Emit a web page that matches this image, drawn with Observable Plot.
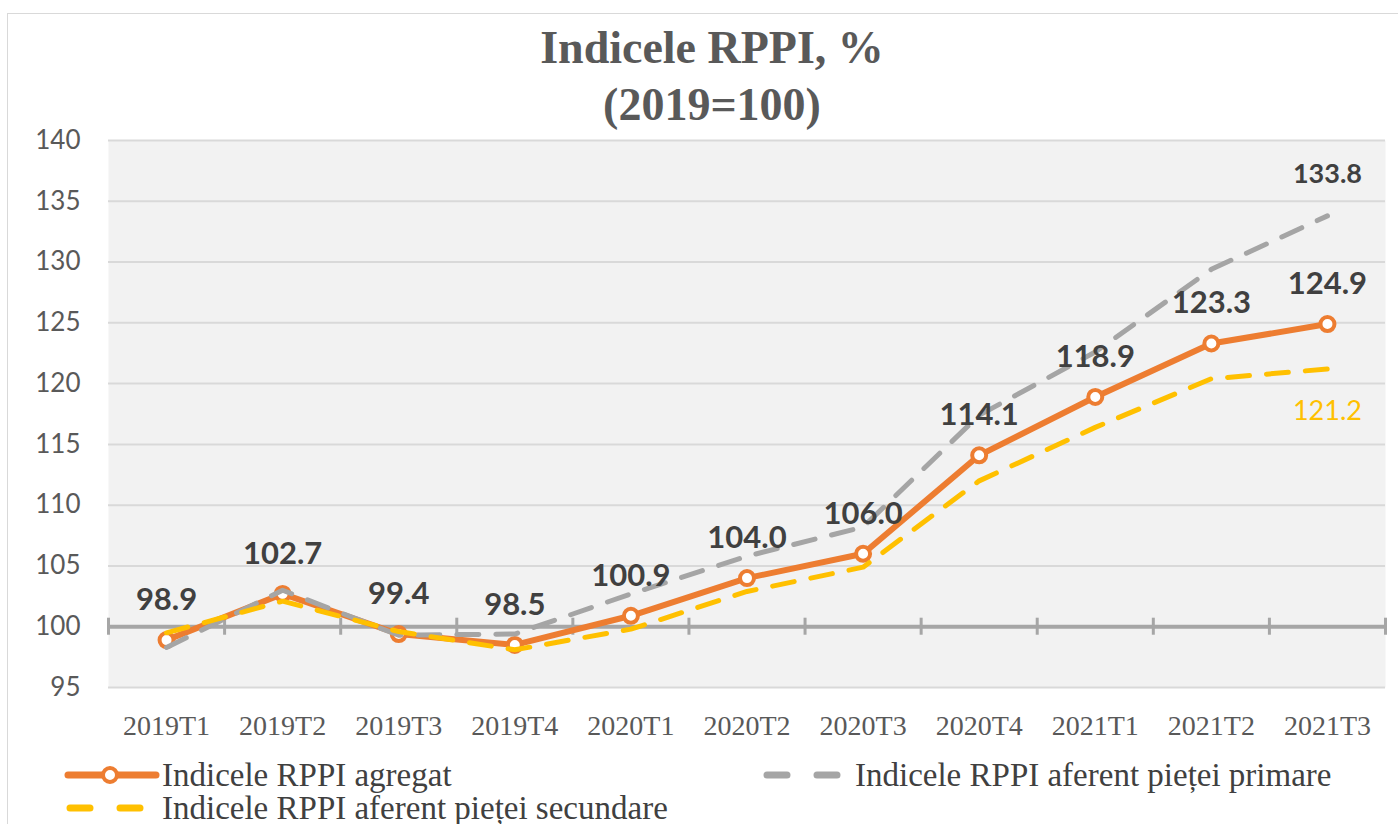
<!DOCTYPE html>
<html>
<head>
<meta charset="utf-8">
<script src="https://cdn.jsdelivr.net/npm/d3@7"></script>
<script src="https://cdn.jsdelivr.net/npm/@observablehq/plot@0.6"></script>
<style>
  html, body { margin: 0; padding: 0; background: #ffffff; overflow: hidden; width: 1398px; height: 824px; }
  #frame { position: absolute; left: 7px; top: 13px; width: 1400px; height: 900px; border: 1px solid #d9d9d9; box-sizing: border-box; }
  #title { position: absolute; left: 0; top: 19px; width: 1424px; text-align: center; font-family: "Liberation Serif", serif; font-weight: bold; font-size: 46px; line-height: 57px; color: #595959; }
  #chart { position: absolute; left: 0; top: 120px; }
  .leg { position: absolute; font-family: "Liberation Serif", serif; font-size: 33px; color: #404040; line-height: 34px; white-space: nowrap; }
  .sw { position: absolute; }
</style>
</head>
<body>
<div id="frame"></div>
<div id="title">Indicele RPPI, %<br>(2019=100)</div>
<div id="chart"></div>

<svg class="sw" style="left:60px;top:760px" width="104" height="30">
  <line x1="8" y1="15" x2="96" y2="15" stroke="#ed7d31" stroke-width="7" stroke-linecap="round"/>
  <circle cx="50" cy="15" r="7" fill="#ffffff" stroke="#ed7d31" stroke-width="4"/>
</svg>
<div class="leg" style="left:162px;top:758px">Indicele RPPI agregat</div>

<svg class="sw" style="left:757px;top:760px" width="96" height="30">
  <line x1="10" y1="15" x2="84" y2="15" stroke="#a5a5a5" stroke-width="7" stroke-linecap="round" stroke-dasharray="20,30"/>
</svg>
<div class="leg" style="left:855px;top:758px">Indicele RPPI aferent pieței primare</div>

<svg class="sw" style="left:60px;top:793px" width="96" height="30">
  <line x1="10" y1="15" x2="84" y2="15" stroke="#ffc000" stroke-width="7" stroke-linecap="round" stroke-dasharray="20,30"/>
</svg>
<div class="leg" style="left:162px;top:791px">Indicele RPPI aferent pieței secundare</div>

<script>
// ---- data ----
const categories = ["2019T1","2019T2","2019T3","2019T4","2020T1","2020T2","2020T3","2020T4","2021T1","2021T2","2021T3"];
const agregat    = [98.9, 102.7, 99.4, 98.5, 100.9, 104.0, 106.0, 114.1, 118.9, 123.3, 124.9];
const primara    = [98.3, 103.0, 99.3, 99.4, 102.7, 105.8, 108.2, 117.4, 122.6, 129.4, 133.8];
const secundara  = [99.5, 102.1, 99.6, 98.1, 99.8, 102.9, 104.9, 112.0, 116.4, 120.4, 121.2];
const yTicks     = [95, 100, 105, 110, 115, 120, 125, 130, 135, 140];

const idx = categories.map((_, i) => i);
const rows = (vals) => vals.map((v, i) => ({i, v}));
const aggRows = rows(agregat);
const priRows = rows(primara);
const secRows = rows(secundara);
const boundaries = d3.range(categories.length + 1).map(k => k - 0.5);
const last = categories.length - 1;

const plot = Plot.plot({
  width: 1398,
  height: 640,
  marginLeft: 108,
  marginRight: 13,
  marginTop: 20,
  marginBottom: 73,
  style: { background: "transparent", overflow: "visible" },
  x: { type: "linear", domain: [-0.5, categories.length - 0.5], label: null },
  y: { domain: [95, 140], label: null },
  marks: [
    Plot.frame({ fill: "#f2f2f2", stroke: null }),
    Plot.gridY(yTicks, { stroke: "#d9d9d9", strokeOpacity: 1, strokeWidth: 2 }),
    Plot.ruleY([100], { stroke: "#a6a6a6", strokeWidth: 4 }),
    Plot.ruleX(boundaries, { y1: 99.3, y2: 100.7, stroke: "#a6a6a6", strokeWidth: 3 }),
    Plot.axisY(yTicks, {
      label: null, tickSize: 0, tickPadding: 28,
      fontFamily: "Lato, sans-serif", fontSize: 26, fill: "#595959", color: "#595959"
    }),
    Plot.axisX(idx, {
      label: null, tickSize: 0, tickPadding: 28,
      tickFormat: i => categories[i],
      fontFamily: "'Liberation Serif', serif", fontSize: 28, fill: "#595959", color: "#595959"
    }),
    Plot.line(aggRows, { x: "i", y: "v", stroke: "#ed7d31", strokeWidth: 6, strokeLinejoin: "round" }),
    Plot.dot(aggRows, { x: "i", y: "v", r: 7, fill: "#ffffff", stroke: "#ed7d31", strokeWidth: 4 }),
    Plot.line(priRows, { x: "i", y: "v", stroke: "#a5a5a5", strokeWidth: 5, strokeDasharray: "22,17", strokeLinecap: "round" }),
    Plot.line(secRows, { x: "i", y: "v", stroke: "#ffc000", strokeWidth: 5, strokeDasharray: "22,17", strokeLinecap: "round" }),
    Plot.text(aggRows, {
      x: "i", y: "v", text: d => d.v.toFixed(1), dy: -40,
      fontFamily: "Lato, sans-serif", fontWeight: "bold", fontSize: 31, fill: "#404040"
    }),
    Plot.text([priRows[last]], {
      x: "i", y: "v", text: d => d.v.toFixed(1), dy: -42,
      fontFamily: "Lato, sans-serif", fontWeight: "bold", fontSize: 27, fill: "#404040"
    }),
    Plot.text([secRows[last]], {
      x: "i", y: "v", text: d => d.v.toFixed(1), dy: 42,
      fontFamily: "Lato, sans-serif", fontSize: 27, fill: "#ffc000"
    })
  ]
});
document.getElementById("chart").appendChild(plot);
</script>
</body>
</html>
